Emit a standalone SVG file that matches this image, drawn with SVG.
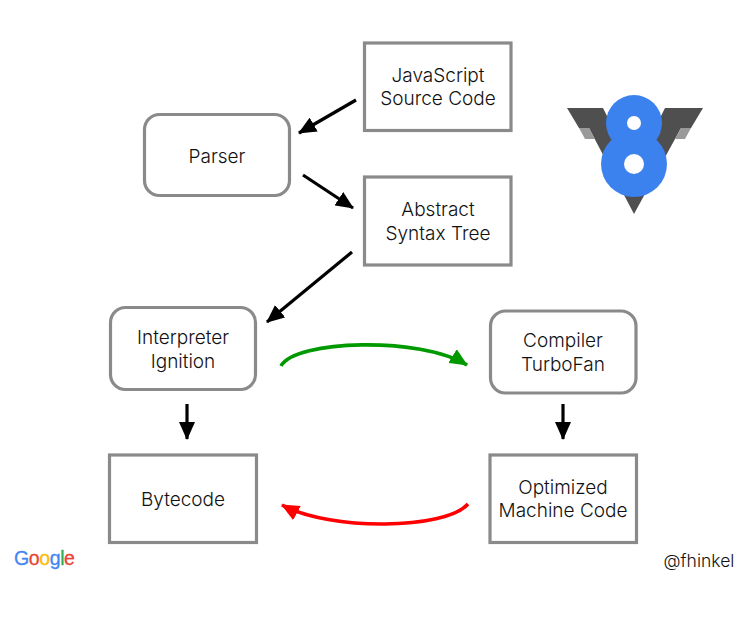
<svg xmlns="http://www.w3.org/2000/svg" width="750" height="627" viewBox="0 0 750 627">
<defs>
<marker id="ab" markerUnits="userSpaceOnUse" markerWidth="18" markerHeight="16" refX="17" refY="8" orient="auto"><path d="M0 0L18 8L0 16Z" fill="#000"/></marker>
<marker id="ag" markerUnits="userSpaceOnUse" markerWidth="18" markerHeight="16" refX="17" refY="8" orient="auto"><path d="M0 0L18 8L0 16Z" fill="#009900"/></marker>
<marker id="ar" markerUnits="userSpaceOnUse" markerWidth="18" markerHeight="16" refX="17" refY="8" orient="auto"><path d="M0 0L18 8L0 16Z" fill="#ff0000"/></marker>
</defs>
<style>
.box{fill:#fff;stroke:#8a8a8a;stroke-width:3.2}
text{font-family:"Inter","Liberation Sans",sans-serif;font-size:19px;fill:#111;text-anchor:middle;font-weight:300}
.c{fill:none;stroke:#000;stroke-width:3.2;marker-end:url(#ab)}
</style>
<rect width="750" height="627" fill="#fff"/>
<g id="connectors">
<path class="c" d="M356 100L299 133"/>
<path class="c" d="M303 175L353 208"/>
<path class="c" d="M352 252L267 322"/>
<path class="c" d="M187 404V439"/>
<path class="c" d="M563 404V439"/>
<path d="M281 366C295 340 420 336 467 365" fill="none" stroke="#009900" stroke-width="3.6" marker-end="url(#ag)"/>
<path d="M468 504C445 530 330 531 282 505" fill="none" stroke="#ff0000" stroke-width="3.6" marker-end="url(#ar)"/>
</g>
<g id="source"><rect class="box" x="364.500" y="43" width="146.500" height="87.500"/><text x="438" y="82">JavaScript</text><text x="438" y="105">Source Code</text></g>
<g id="parser"><rect class="box" x="144.500" y="114.500" width="145" height="81" rx="15"/><text x="217" y="163">Parser</text></g>
<g id="ast"><rect class="box" x="364.500" y="177" width="146.500" height="88"/><text x="438" y="216">Abstract</text><text x="438" y="240">Syntax Tree</text></g>
<g id="ignition"><rect class="box" x="110.500" y="307.500" width="145" height="82" rx="15"/><text x="183" y="344">Interpreter</text><text x="183" y="368">Ignition</text></g>
<g id="turbofan"><rect class="box" x="490.500" y="311" width="145.500" height="82" rx="15"/><text x="563" y="347">Compiler</text><text x="563" y="371">TurboFan</text></g>
<g id="bytecode"><rect class="box" x="109.500" y="455" width="147" height="87.500"/><text x="183" y="506">Bytecode</text></g>
<g id="optimized"><rect class="box" x="490" y="455" width="146.500" height="87.500"/><text x="563" y="494">Optimized</text><text x="563" y="517">Machine Code</text></g>
<g id="v8-logo">
<path d="M567 108H603L634 170L665 108H703L691 128H681L634 214L589 128H579Z" fill="#4f4f4f"/>
<path d="M579 128H589L595 139H585Z" fill="#9a9a9a"/>
<path d="M691 128H681L675 139H685Z" fill="#9a9a9a"/>
<circle cx="634" cy="123" r="28" fill="#3b82ef"/>
<circle cx="634" cy="164" r="33" fill="#3b82ef"/>
<circle cx="634" cy="123" r="7" fill="#fff"/>
<circle cx="634" cy="164" r="10" fill="#fff"/>
</g>
<g id="google">
<text x="14" y="565" style="font-family:'Liberation Sans',sans-serif;font-size:19.500px;text-anchor:start;font-weight:400;letter-spacing:-.4px;stroke-width:.3"><tspan fill="#4285f4" stroke="#4285f4">G</tspan><tspan fill="#ea4335" stroke="#ea4335">o</tspan><tspan fill="#fbbc05" stroke="#fbbc05">o</tspan><tspan fill="#4285f4" stroke="#4285f4">g</tspan><tspan fill="#34a853" stroke="#34a853">l</tspan><tspan fill="#ea4335" stroke="#ea4335">e</tspan></text>
</g>
<text x="699" y="567" id="handle" style="font-size:17.500px">@fhinkel</text>
</svg>
